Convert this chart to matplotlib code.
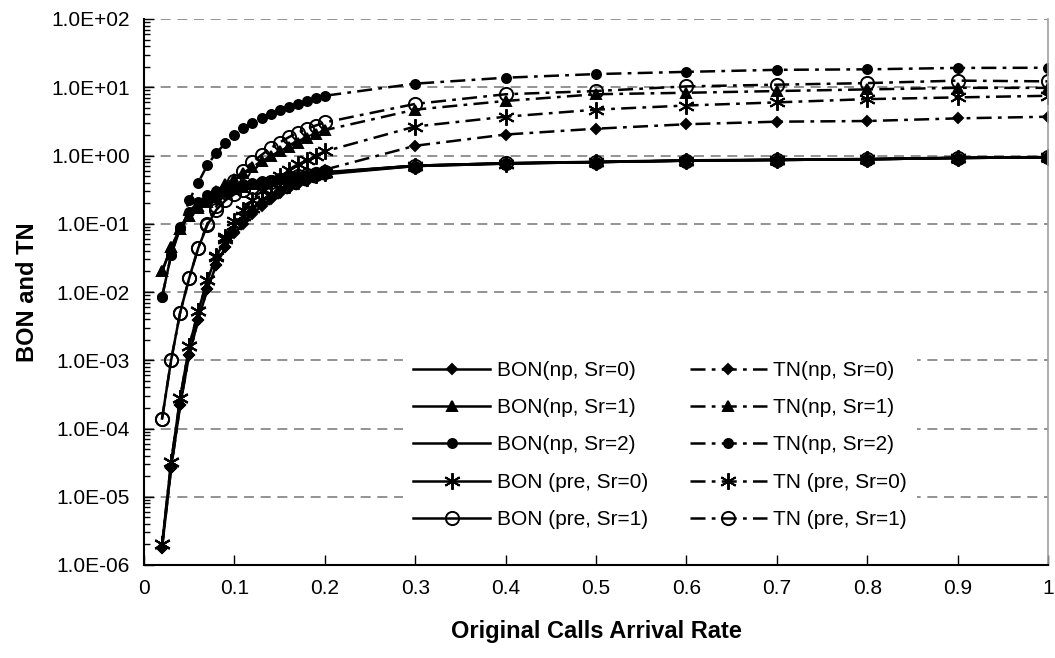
import matplotlib
matplotlib.use('Agg')
import matplotlib.pyplot as plt
from matplotlib.ticker import FixedLocator, LogLocator, NullFormatter

# arrival rates used for every series
arrival_rate = [0.02, 0.03, 0.04, 0.05, 0.06, 0.07, 0.08, 0.09, 0.10, 0.11,
                0.12, 0.13, 0.14, 0.15, 0.16, 0.17, 0.18, 0.19, 0.20,
                0.3, 0.4, 0.5, 0.6, 0.7, 0.8, 0.9, 1.0]

bon_np_sr0 = [1.8e-6, 2.6e-5, 2.2e-4, 1.2e-3, 3.9e-3, 0.011, 0.025, 0.045, 0.072, 0.10,
              0.14, 0.18, 0.23, 0.28, 0.33, 0.38, 0.43, 0.48, 0.53,
              0.70, 0.76, 0.80, 0.84, 0.86, 0.88, 0.92, 0.94]
tn_np_sr0 = [1.8e-6, 2.6e-5, 2.2e-4, 1.2e-3, 3.9e-3, 0.011, 0.025, 0.045, 0.075, 0.11,
             0.15, 0.20, 0.25, 0.30, 0.36, 0.42, 0.48, 0.55, 0.62,
             1.39, 2.03, 2.47, 2.87, 3.13, 3.2, 3.5, 3.7]
bon_np_sr1 = [0.02, 0.045, 0.085, 0.13, 0.17, 0.21, 0.25, 0.29, 0.32, 0.35,
              0.38, 0.40, 0.43, 0.45, 0.47, 0.50, 0.52, 0.54, 0.56,
              0.71, 0.77, 0.80, 0.84, 0.86, 0.88, 0.92, 0.94]
tn_np_sr1 = [0.02, 0.045, 0.085, 0.13, 0.18, 0.24, 0.30, 0.38, 0.46, 0.56,
             0.68, 0.82, 0.98, 1.15, 1.35, 1.55, 1.8, 2.05, 2.35,
             4.7, 6.3, 7.9, 8.3, 8.8, 9.3, 9.8, 9.8]
bon_np_sr2 = [0.0085, 0.035, 0.085, 0.15, 0.21, 0.26, 0.30, 0.33, 0.36, 0.38,
              0.40, 0.42, 0.44, 0.46, 0.48, 0.50, 0.52, 0.54, 0.56,
              0.71, 0.77, 0.81, 0.85, 0.87, 0.89, 0.93, 0.95]
tn_np_sr2 = [0.0085, 0.035, 0.09, 0.22, 0.40, 0.72, 1.1, 1.5, 2.0, 2.5,
             3.0, 3.5, 4.0, 4.6, 5.1, 5.7, 6.3, 6.9, 7.5,
             11.3, 13.8, 15.6, 16.8, 18.0, 18.3, 19.2, 19.3]
bon_pre_sr0 = [2e-6, 3.2e-5, 2.8e-4, 1.6e-3, 5.2e-3, 0.015, 0.033, 0.06, 0.095, 0.13,
               0.17, 0.22, 0.27, 0.32, 0.37, 0.42, 0.47, 0.51, 0.55,
               0.70, 0.76, 0.80, 0.84, 0.86, 0.88, 0.92, 0.94]
tn_pre_sr0 = [2e-6, 3.2e-5, 2.8e-4, 1.6e-3, 5.2e-3, 0.015, 0.034, 0.065, 0.11, 0.16,
              0.22, 0.30, 0.39, 0.50, 0.62, 0.74, 0.87, 1.0, 1.15,
              2.66, 3.7, 4.7, 5.4, 6.0, 6.7, 7.1, 7.5]
bon_pre_sr1 = [1.4e-4, 1e-3, 5e-3, 0.016, 0.044, 0.095, 0.16, 0.22, 0.27, 0.31,
               0.35, 0.38, 0.41, 0.44, 0.47, 0.50, 0.52, 0.54, 0.57,
               0.71, 0.77, 0.80, 0.84, 0.86, 0.88, 0.92, 0.94]
tn_pre_sr1 = [1.4e-4, 1e-3, 5e-3, 0.016, 0.044, 0.10, 0.18, 0.29, 0.43, 0.60,
              0.80, 1.02, 1.28, 1.55, 1.85, 2.15, 2.45, 2.75, 3.05,
              5.7, 7.9, 8.8, 10.3, 10.9, 11.5, 12.5, 12.2]

bon_labels = ['BON(np, Sr=0)', 'BON(np, Sr=1)', 'BON(np, Sr=2)',
              'BON (pre, Sr=0)', 'BON (pre, Sr=1)']
tn_labels = ['TN(np, Sr=0)', 'TN(np, Sr=1)', 'TN(np, Sr=2)',
             'TN (pre, Sr=0)', 'TN (pre, Sr=1)']

x_ticks = [0, 0.1, 0.2, 0.3, 0.4, 0.5, 0.6, 0.7, 0.8, 0.9, 1.0]
x_tick_labels = ['0', '0.1', '0.2', '0.3', '0.4', '0.5', '0.6', '0.7', '0.8', '0.9', '1']
y_ticks = [1e-6, 1e-5, 1e-4, 1e-3, 1e-2, 1e-1, 1e0, 1e1, 1e2]
y_tick_labels = ['1.0E-06', '1.0E-05', '1.0E-04', '1.0E-03', '1.0E-02',
                 '1.0E-01', '1.0E+00', '1.0E+01', '1.0E+02']

plt.rcParams['font.family'] = ['Liberation Sans', 'DejaVu Sans']

W, H = 1055, 658
fig = plt.figure(figsize=(W / 100, H / 100), dpi=100)
ax = fig.add_axes([144 / W, 1 - 565 / H, (1048 - 144) / W, (565 - 19) / H])

# marker style per category: (marker, size, facecolor)
asterisk = (6, 2, 0)
styles = [('D', 5, 'black'), ('^', 7, 'black'), ('o', 6.5, 'black'),
          (asterisk, 12, 'black'), ('o', 9.5, 'none')]

bon_series = [bon_np_sr0, bon_np_sr1, bon_np_sr2, bon_pre_sr0, bon_pre_sr1]
tn_series = [tn_np_sr0, tn_np_sr1, tn_np_sr2, tn_pre_sr0, tn_pre_sr1]

bon_handles = []
tn_handles = []
for vals, lab, (m, ms, fc) in zip(bon_series, bon_labels, styles):
    h, = ax.plot(arrival_rate, vals, color='black', lw=1.8, marker=m, ms=ms,
                 mfc=fc, mec='black', mew=1.4, label=lab)
    bon_handles.append(h)
for vals, lab, (m, ms, fc) in zip(tn_series, tn_labels, styles):
    h, = ax.plot(arrival_rate, vals, color='black', lw=1.8, marker=m, ms=ms,
                 mfc=fc, mec='black', mew=1.4, label=lab,
                 dashes=(6, 2.5, 1.5, 2.5))
    tn_handles.append(h)

ax.set_yscale('log')
ax.set_ylim(1e-6, 1e2)
ax.set_xlim(0, 1)
ax.xaxis.set_major_locator(FixedLocator(x_ticks))
ax.set_xticklabels(x_tick_labels)
ax.yaxis.set_major_locator(FixedLocator(y_ticks))
ax.set_yticklabels(y_tick_labels)
ax.yaxis.set_minor_locator(LogLocator(base=10, subs=range(2, 10), numticks=20))
ax.yaxis.set_minor_formatter(NullFormatter())
ax.tick_params(axis='both', which='major', direction='in', length=7, width=1,
               labelsize=15, pad=10)
ax.tick_params(axis='y', which='minor', direction='in', length=4, width=1)
ax.grid(axis='y', which='major', color='#808080', lw=1.2, dashes=(6, 4))

for side in ['left', 'bottom']:
    ax.spines[side].set_linewidth(1.5)
ax.spines['top'].set_visible(False)
ax.spines['right'].set_color('#a0a0a0')
ax.spines['right'].set_linewidth(1.2)

ax.set_xlabel('Original Calls Arrival Rate', fontsize=17, fontweight='bold', labelpad=16)
ax.set_ylabel('BON and TN', fontsize=17, fontweight='bold', labelpad=9)

leg = ax.legend(bon_handles + tn_handles, bon_labels + tn_labels, ncol=2,
                loc='center', bbox_to_anchor=(660 / W, 1 - 445 / H),
                bbox_transform=fig.transFigure, fontsize=15, frameon=True,
                fancybox=False, edgecolor='none', facecolor='white', framealpha=1,
                numpoints=1, handlelength=3.7, handletextpad=0.3,
                columnspacing=2.0, labelspacing=0.88, borderpad=0.5)

fig.savefig('out.png', dpi=100)
